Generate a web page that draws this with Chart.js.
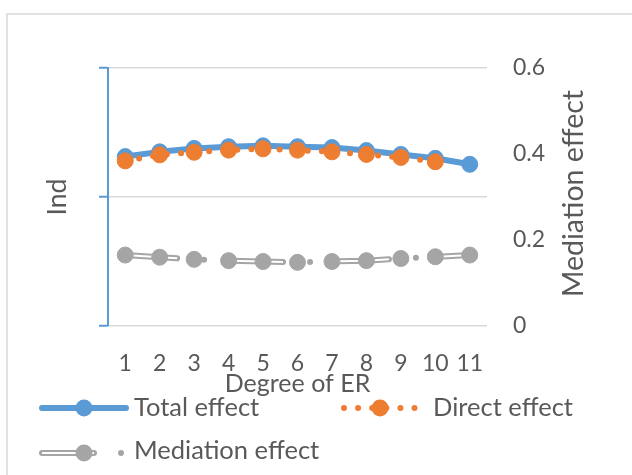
<!DOCTYPE html>
<html><head><meta charset="utf-8">
<script src="https://cdn.jsdelivr.net/npm/chart.js@4"></script>
<style>html,body{margin:0;padding:0;background:#fff;overflow:hidden}canvas{display:block}</style>
</head><body>
<canvas id="c" width="632" height="475"></canvas>
<script>
// ---- data ----
const categories = ['1','2','3','4','5','6','7','8','9','10','11'];
const totalEffect = [0.394,0.405,0.413,0.417,0.419,0.417,0.415,0.408,0.399,0.390,0.376];
const directEffect = [0.384,0.398,0.404,0.409,0.412,0.409,0.405,0.399,0.392,0.382,null];
const mediationEffect = [0.165,0.160,0.155,0.152,0.150,0.148,0.150,0.152,0.157,0.161,0.165];
const rightTickValues = [0, 0.2, 0.4, 0.6];
const leftTickValues = [0, 1, 2];
const seriesNames = ['Total effect','Direct effect','Mediation effect'];
const xTitle = 'Degree of ER';
const leftTitle = 'Ind';
const rightTitle = 'Mediation effect';

// ---- styles ----
const FONT = 'Lato';
const TEXT = '#595959';
const BLUE = '#5b9bd5', ORANGE = '#ed7d31', GRAY = '#a5a5a5', GRID = '#d9d9d9';
const MED_DASH = [52, 27, 0, 27];
const MED_INNER_DASH = [52, 54];
const DOT_DASH = [0, 14.1];

const framePlugin = {
  id: 'frame',
  beforeDraw(chart) {
    const ctx = chart.ctx;
    ctx.save();
    ctx.strokeStyle = GRID;
    ctx.lineWidth = 1.5;
    ctx.strokeRect(7, 14, 1000, 1000);
    ctx.restore();
  }
};

function drawSample(ctx, kind, x0, yc) {
  ctx.save();
  if (kind === 0) {
    ctx.strokeStyle = BLUE; ctx.lineWidth = 6; ctx.lineCap = 'round';
    ctx.beginPath(); ctx.moveTo(x0, yc); ctx.lineTo(x0 + 84, yc); ctx.stroke();
    ctx.fillStyle = BLUE; ctx.beginPath(); ctx.arc(x0 + 42, yc, 8.5, 0, Math.PI * 2); ctx.fill();
  } else if (kind === 1) {
    ctx.strokeStyle = ORANGE; ctx.lineWidth = 6; ctx.lineCap = 'round';
    ctx.setLineDash(DOT_DASH);
    ctx.beginPath(); ctx.moveTo(x0 + 6, yc); ctx.lineTo(x0 + 80, yc); ctx.stroke();
    ctx.setLineDash([]);
    ctx.fillStyle = ORANGE; ctx.beginPath(); ctx.arc(x0 + 42, yc, 8.5, 0, Math.PI * 2); ctx.fill();
  } else {
    ctx.strokeStyle = GRAY; ctx.lineWidth = 6; ctx.lineCap = 'round';
    ctx.setLineDash(MED_DASH);
    ctx.beginPath(); ctx.moveTo(x0, yc); ctx.lineTo(x0 + 84, yc); ctx.stroke();
    ctx.strokeStyle = '#ffffff'; ctx.lineWidth = 2; ctx.lineCap = 'butt';
    ctx.setLineDash(MED_INNER_DASH);
    ctx.beginPath(); ctx.moveTo(x0, yc); ctx.lineTo(x0 + 84, yc); ctx.stroke();
    ctx.setLineDash([]);
    ctx.fillStyle = GRAY; ctx.beginPath(); ctx.arc(x0 + 42, yc, 8.5, 0, Math.PI * 2); ctx.fill();
  }
  ctx.restore();
}

const legendSlots = [
  {sx: 42, textX: 134, yc: 408, base: 416},
  {sx: 338, textX: 433, yc: 408, base: 416},
  {sx: 42, textX: 134, yc: 453, base: 459}
];

const extrasPlugin = {
  id: 'extras',
  afterDraw(chart) {
    const ctx = chart.ctx;
    // right axis title (reads bottom-to-top)
    ctx.save();
    ctx.fillStyle = TEXT;
    ctx.font = '28.5px ' + FONT;
    ctx.translate(583, 193.5);
    ctx.rotate(-Math.PI / 2);
    ctx.textAlign = 'center';
    ctx.textBaseline = 'alphabetic';
    ctx.fillText(rightTitle, 0, 0);
    ctx.restore();
    // legend
    seriesNames.forEach((name, i) => {
      const s = legendSlots[i];
      drawSample(ctx, i, s.sx, s.yc);
      ctx.save();
      ctx.fillStyle = TEXT;
      ctx.font = '25.5px ' + FONT;
      ctx.textAlign = 'left';
      ctx.textBaseline = 'alphabetic';
      ctx.fillText(name, s.textX, s.base);
      ctx.restore();
    });
  }
};

const common = {pointRadius: 8, pointBorderWidth: 1, pointHoverRadius: 8, tension: 0, yAxisID: 'y1'};

new Chart(document.getElementById('c'), {
  type: 'line',
  data: {
    labels: categories,
    datasets: [
      Object.assign({}, common, {label: seriesNames[0], data: totalEffect, borderColor: BLUE, backgroundColor: BLUE,
        pointBackgroundColor: BLUE, pointBorderColor: BLUE, borderWidth: 6, borderCapStyle: 'round', borderJoinStyle: 'round', order: 5}),
      Object.assign({}, common, {label: seriesNames[1], data: directEffect, borderColor: ORANGE, backgroundColor: ORANGE,
        pointBackgroundColor: ORANGE, pointBorderColor: ORANGE, borderWidth: 6, borderCapStyle: 'round', borderJoinStyle: 'round',
        borderDash: DOT_DASH, order: 4}),
      Object.assign({}, common, {label: seriesNames[2], data: mediationEffect, borderColor: GRAY, backgroundColor: GRAY,
        pointRadius: 0, pointHoverRadius: 0, borderWidth: 6, borderCapStyle: 'round', borderJoinStyle: 'round',
        borderDash: MED_DASH, order: 3}),
      Object.assign({}, common, {label: seriesNames[2] + ' inner', data: mediationEffect, borderColor: '#ffffff', backgroundColor: '#ffffff',
        pointRadius: 0, pointHoverRadius: 0, borderWidth: 2, borderCapStyle: 'butt',
        borderDash: MED_INNER_DASH, order: 2}),
      Object.assign({}, common, {label: seriesNames[2] + ' markers', data: mediationEffect, showLine: false,
        pointBackgroundColor: GRAY, pointBorderColor: GRAY, backgroundColor: GRAY, borderColor: GRAY, order: 1})
    ]
  },
  options: {
    responsive: false,
    animation: false,
    events: [],
    layout: {padding: {top: 68, left: 0, right: 0, bottom: 60}},
    plugins: {legend: {display: false}, tooltip: {enabled: false}},
    scales: {
      x: {
        type: 'category', offset: true,
        grid: {display: false, drawTicks: false},
        border: {display: false},
        ticks: {color: TEXT, font: {family: FONT, size: 23}, padding: 24, maxRotation: 0, autoSkip: false},
        title: {display: true, text: xTitle, color: TEXT, font: {family: FONT, size: 25}, padding: {top: 0, bottom: 15.6}},
        afterFit: s => { s.height = 89; }
      },
      y: {
        position: 'left', min: 0, max: 2,
        afterBuildTicks: s => { s.ticks = leftTickValues.map(v => ({value: v})); },
        ticks: {display: false},
        grid: {color: GRID, lineWidth: 1.5, tickColor: BLUE, tickLength: 9, tickWidth: 2, drawTicks: true},
        border: {display: true, color: BLUE, width: 2},
        title: {display: true, text: leftTitle, color: TEXT, font: {family: FONT, size: 26.6}, padding: {top: 41.4, bottom: 0}},
        afterFit: s => { s.width = 108; }
      },
      y1: {
        position: 'right', min: 0, max: 0.6,
        afterBuildTicks: s => { s.ticks = rightTickValues.map(v => ({value: v})); },
        ticks: {color: TEXT, font: {family: FONT, size: 23}, padding: 26, callback: v => String(v)},
        grid: {display: false, drawTicks: false},
        border: {display: false},
        afterFit: s => { s.width = 145; }
      }
    }
  },
  plugins: [framePlugin, extrasPlugin]
});
</script>
</body></html>
